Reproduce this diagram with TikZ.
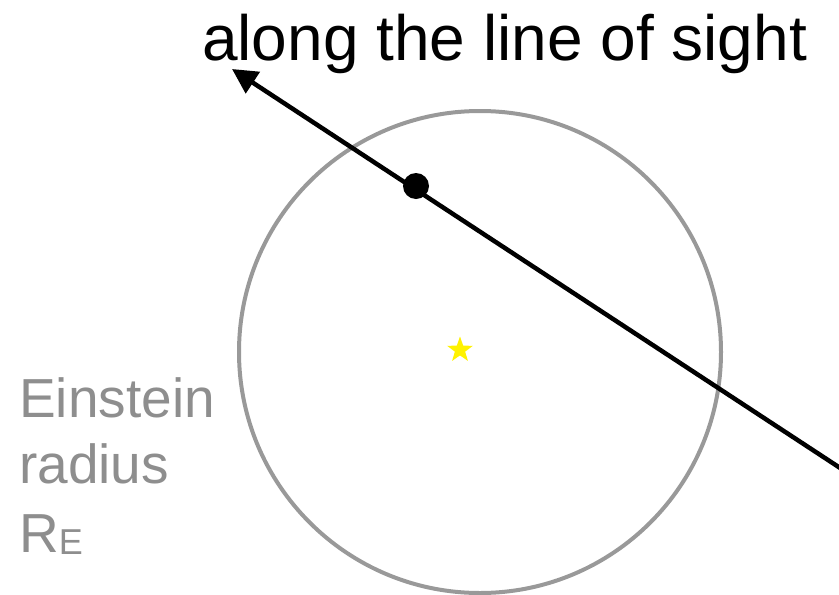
\documentclass[tikz,border=0pt]{standalone}
\usepackage{fontspec}
\setmainfont{Liberation Sans}
\usetikzlibrary{arrows.meta,shapes.geometric}
\definecolor{ringgray}{HTML}{999999}
\definecolor{textgray}{HTML}{8E8E8E}
\definecolor{staryellow}{HTML}{FFF200}
\begin{document}
\begin{tikzpicture}[x=1pt,y=-1pt,
  ring/.style={draw=ringgray,line width=4pt,circle,minimum size=482pt,inner sep=0pt},
  sightline/.style={draw=black,line width=4.5pt,-{Triangle[length=25pt,width=25pt]}},
  dotnode/.style={circle,fill=black,minimum size=26pt,inner sep=0pt},
  labeltext/.style={inner sep=0pt,anchor=base west,text=textgray,font=\fontsize{55pt}{55pt}\selectfont},
  titletext/.style={inner sep=0pt,anchor=base west,text=black,font=\fontsize{64pt}{64pt}\selectfont}]
\useasboundingbox (0,0) rectangle (839,595);
\node[ring] (einsteinring) at (480,352) {};
\node[star,star points=5,star point ratio=2.5,fill=staryellow,minimum size=27pt,inner sep=0pt] (lens) at (460,350) {};
\coordinate (farend) at (860,481);
\coordinate (tip) at (232,69);
\draw[sightline] (farend) -- (tip);
\node[dotnode] (source) at (416,186) {};
\node[titletext] (title) at (202,60) {along the line of sight};
\node[labeltext] (lbla) at (19,417) {Einstein};
\node[labeltext] (lblb) at (19,483) {radius};
\node[labeltext] (lblc) at (19,552) {R\raisebox{-2pt}{\fontsize{36pt}{36pt}\selectfont E}};
\end{tikzpicture}
\end{document}
